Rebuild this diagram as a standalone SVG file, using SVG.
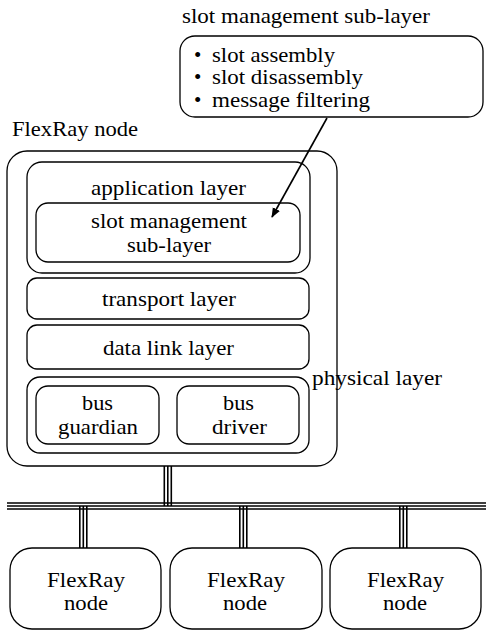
<svg xmlns="http://www.w3.org/2000/svg" width="486" height="631" viewBox="0 0 486 631">
<style>
.b{fill:#fff;stroke:#000;stroke-width:1.3}
.bus{stroke:#000;stroke-width:1.6;fill:none}
</style>
<defs>
<marker id="ah" markerWidth="10" markerHeight="10" refX="9" refY="5" orient="auto" markerUnits="userSpaceOnUse">
<path d="M0,1 L10,5 L0,9 z" fill="#000"/>
</marker>
</defs>
<rect width="486" height="631" fill="#fff"/>

<g id="slot-callout" style="font-family:'Liberation Serif',serif;font-size:21px">
<text x="182" y="23" textLength="248" lengthAdjust="spacingAndGlyphs">slot management sub-layer</text>
<rect class="b" x="180" y="36" width="303" height="81" rx="15"/>
<text x="194" y="62">•</text>
<text x="212" y="62" textLength="123" lengthAdjust="spacingAndGlyphs">slot assembly</text>
<text x="194" y="84">•</text>
<text x="212" y="84" textLength="151" lengthAdjust="spacingAndGlyphs">slot disassembly</text>
<text x="194" y="107">•</text>
<text x="212" y="107" textLength="158" lengthAdjust="spacingAndGlyphs">message filtering</text>
</g>

<g id="flexray-node-main" style="font-family:'Liberation Serif',serif;font-size:21px">
<text x="12" y="136" textLength="126" lengthAdjust="spacingAndGlyphs">FlexRay node</text>
<rect class="b" x="7" y="151" width="330" height="315" rx="20"/>
</g>

<g id="application-layer" style="font-family:'Liberation Serif',serif;font-size:21px">
<rect class="b" x="27" y="162" width="283" height="111" rx="15"/>
<text x="91" y="195" textLength="155" lengthAdjust="spacingAndGlyphs">application layer</text>
</g>

<g id="slot-management" style="font-family:'Liberation Serif',serif;font-size:21px">
<rect class="b" x="36" y="203" width="264" height="59" rx="12"/>
<text x="91" y="228" textLength="156" lengthAdjust="spacingAndGlyphs">slot management</text>
<text x="127" y="252" textLength="84" lengthAdjust="spacingAndGlyphs">sub-layer</text>
</g>

<g id="transport-layer" style="font-family:'Liberation Serif',serif;font-size:21px">
<rect class="b" x="27" y="278" width="282" height="41" rx="10"/>
<text x="102" y="306" textLength="134" lengthAdjust="spacingAndGlyphs">transport layer</text>
</g>

<g id="data-link-layer" style="font-family:'Liberation Serif',serif;font-size:21px">
<rect class="b" x="27" y="325" width="282" height="44" rx="10"/>
<text x="103" y="355" textLength="131" lengthAdjust="spacingAndGlyphs">data link layer</text>
</g>

<g id="physical-layer" style="font-family:'Liberation Serif',serif;font-size:21px">
<rect class="b" x="27" y="377" width="282" height="76" rx="13"/>
<text x="312" y="385" textLength="130" lengthAdjust="spacingAndGlyphs">physical layer</text>
</g>

<g id="bus-guardian" style="font-family:'Liberation Serif',serif;font-size:21px">
<rect class="b" x="36" y="386" width="123" height="58" rx="12"/>
<text x="82" y="410" textLength="31" lengthAdjust="spacingAndGlyphs">bus</text>
<text x="58" y="434" textLength="80" lengthAdjust="spacingAndGlyphs">guardian</text>
</g>

<g id="bus-driver" style="font-family:'Liberation Serif',serif;font-size:21px">
<rect class="b" x="177" y="386" width="122" height="58" rx="12"/>
<text x="223" y="410" textLength="31" lengthAdjust="spacingAndGlyphs">bus</text>
<text x="212" y="434" textLength="55" lengthAdjust="spacingAndGlyphs">driver</text>
</g>

<g id="node-1" style="font-family:'Liberation Serif',serif;font-size:21px">
<rect class="b" x="10" y="548" width="151" height="81" rx="22"/>
<text x="47" y="587" textLength="78" lengthAdjust="spacingAndGlyphs">FlexRay</text>
<text x="64" y="610" textLength="44" lengthAdjust="spacingAndGlyphs">node</text>
</g>
<g id="node-2" style="font-family:'Liberation Serif',serif;font-size:21px">
<rect class="b" x="170" y="548" width="152" height="81" rx="22"/>
<text x="207" y="587" textLength="78" lengthAdjust="spacingAndGlyphs">FlexRay</text>
<text x="223" y="610" textLength="44" lengthAdjust="spacingAndGlyphs">node</text>
</g>
<g id="node-3" style="font-family:'Liberation Serif',serif;font-size:21px">
<rect class="b" x="330" y="548" width="151" height="81" rx="22"/>
<text x="367" y="587" textLength="77" lengthAdjust="spacingAndGlyphs">FlexRay</text>
<text x="383" y="610" textLength="44" lengthAdjust="spacingAndGlyphs">node</text>
</g>

<g id="connectors">
<line x1="327" y1="118" x2="272" y2="217" stroke="#000" stroke-width="1.6" marker-end="url(#ah)"/>
<g class="bus">
<line x1="164.3" y1="466" x2="164.3" y2="506"/>
<line x1="167.8" y1="466" x2="167.8" y2="506"/>
<line x1="171.3" y1="466" x2="171.3" y2="506"/>
<line x1="7" y1="503" x2="486" y2="503"/>
<line x1="7" y1="506" x2="486" y2="506"/>
<line x1="7" y1="509" x2="486" y2="509"/>
<line x1="79.8" y1="506" x2="79.8" y2="548"/>
<line x1="83.3" y1="506" x2="83.3" y2="548"/>
<line x1="86.8" y1="506" x2="86.8" y2="548"/>
<line x1="239.8" y1="506" x2="239.8" y2="548"/>
<line x1="243.3" y1="506" x2="243.3" y2="548"/>
<line x1="246.8" y1="506" x2="246.8" y2="548"/>
<line x1="399.8" y1="506" x2="399.8" y2="548"/>
<line x1="403.3" y1="506" x2="403.3" y2="548"/>
<line x1="406.8" y1="506" x2="406.8" y2="548"/>
</g>
</g>
</svg>
